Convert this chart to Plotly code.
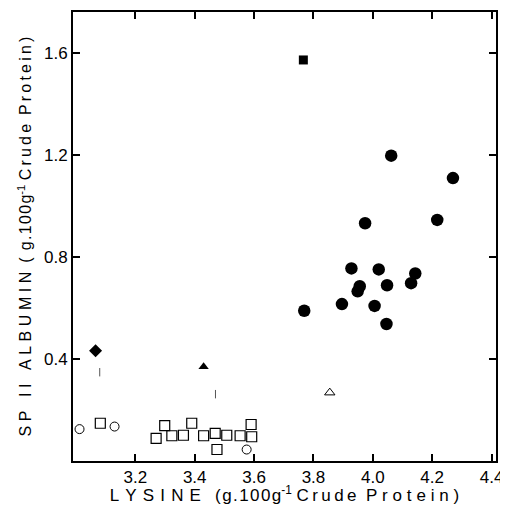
import plotly.graph_objects as go

# Filled circles
fc_x = [4.062, 4.27, 3.974, 4.217, 3.928, 4.02, 4.143, 4.129, 4.048, 3.956, 3.949, 3.896, 4.006, 3.769, 4.046]
fc_y = [1.197, 1.109, 0.932, 0.945, 0.755, 0.751, 0.735, 0.697, 0.689, 0.685, 0.665, 0.615, 0.608, 0.589, 0.537]
# Filled square
fs_x = [3.766]
fs_y = [1.572]
# Filled diamond
fd_x = [3.066]
fd_y = [0.432]
# Filled triangle
ft_x = [3.43]
ft_y = [0.369]
# Open triangle
ot_x = [3.855]
ot_y = [0.268]
# Open squares
os_x = [3.082, 3.299, 3.39, 3.27, 3.323, 3.362, 3.43, 3.469, 3.508, 3.475, 3.553, 3.592, 3.59]
os_y = [0.148, 0.139, 0.148, 0.089, 0.099, 0.101, 0.099, 0.108, 0.101, 0.045, 0.099, 0.095, 0.143]
# Open circles
oc_x = [3.012, 3.13, 3.575]
oc_y = [0.125, 0.135, 0.045]
# Faint / broken marks
fm_x = [3.08, 3.47]
fm_y = [0.348, 0.262]

x_ticks = [3.2, 3.4, 3.6, 3.8, 4.0, 4.2, 4.4]
y_ticks = [0.4, 0.8, 1.2, 1.6]
x_title_parts = ["LYSINE", "(g.100g", "-1", "Crude", "Protein)"]
y_title_parts = ["SP II ALBUMIN", "( g.100g", "-1", "Crude", "Protein)"]

FONT = "Liberation Sans, Arial, sans-serif"
NB = "\u00a0"
THIN = "\u2009"
HAIR = "\u200a"


def spaced(word, sep):
    return sep.join(NB if c == " " else c for c in word)


x_title = (spaced(x_title_parts[0], NB + HAIR) + NB + NB + NB + spaced(x_title_parts[1], HAIR)
           + "<sup>" + x_title_parts[2] + "</sup>" + NB
           + spaced(x_title_parts[3], THIN) + NB + NB
           + spaced(x_title_parts[4], THIN + HAIR))
y_title = (spaced(y_title_parts[0], THIN + HAIR) + NB + NB + spaced(y_title_parts[1], HAIR)
           + "<sup>" + y_title_parts[2] + "</sup>" + NB
           + spaced(y_title_parts[3], THIN) + NB + NB
           + spaced(y_title_parts[4], THIN))

fig = go.Figure()
fig.add_trace(go.Scatter(x=fc_x, y=fc_y, mode="markers",
                         marker=dict(symbol="circle", size=12.5, color="black")))
fig.add_trace(go.Scatter(x=fs_x, y=fs_y, mode="markers",
                         marker=dict(symbol="square", size=9, color="black")))
fig.add_trace(go.Scatter(x=fd_x, y=fd_y, mode="markers",
                         marker=dict(symbol="diamond", size=10, color="black")))
fig.add_trace(go.Scatter(x=ft_x, y=ft_y, mode="markers",
                         marker=dict(symbol="triangle-up", size=9, color="black")))
fig.add_trace(go.Scatter(x=ot_x, y=ot_y, mode="markers",
                         marker=dict(symbol="triangle-up-open", size=9, color="black",
                                     line=dict(width=1))))
fig.add_trace(go.Scatter(x=os_x, y=os_y, mode="markers",
                         marker=dict(symbol="square-open", size=10, color="black",
                                     line=dict(width=1.2))))
fig.add_trace(go.Scatter(x=oc_x, y=oc_y, mode="markers",
                         marker=dict(symbol="circle-open", size=9, color="black",
                                     line=dict(width=1))))
fig.add_trace(go.Scatter(x=fm_x, y=fm_y, mode="markers",
                         marker=dict(symbol="line-ns-open", size=6, color="#555",
                                     line=dict(width=1, color="#555"))))

axis_common = dict(
    showline=True, linecolor="black", linewidth=2, mirror="ticks",
    ticks="inside", ticklen=7, tickwidth=2, tickcolor="black",
    showgrid=False, zeroline=False, automargin=False,
    tickfont=dict(family=FONT, size=17, color="black"),
)

fig.update_xaxes(range=[2.99, 4.415], tickvals=x_ticks,
                 ticktext=[f"{v:.1f}" for v in x_ticks],
                 title=dict(text=x_title,
                            font=dict(family=FONT, size=17, color="black"), standoff=0),
                 **axis_common)
fig.update_yaxes(range=[0.0, 1.76], tickvals=y_ticks,
                 ticktext=[f"{v:.1f}" for v in y_ticks],
                 title=dict(text=y_title,
                            font=dict(family=FONT, size=16, color="black"), standoff=8),
                 **axis_common)

# The page body adds an 8px margin, so the figure is sized to fill the
# remaining 500x497 area of the 508x505 window.
fig.update_layout(
    width=500, height=497,
    margin=dict(l=65, r=12, t=4, b=44),
    plot_bgcolor="white", paper_bgcolor="white",
    showlegend=False,
)

fig.write_html("out.html")
